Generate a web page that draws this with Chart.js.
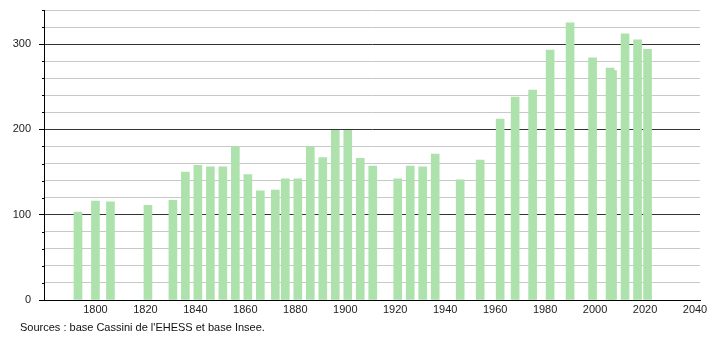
<!DOCTYPE html>
<html>
<head>
<meta charset="utf-8">
<script src="https://cdn.jsdelivr.net/npm/chart.js@4/dist/chart.umd.min.js"></script>
<style>
html,body{margin:0;padding:0;background:#fff;}
#wrap{position:relative;width:710px;height:340px;}
#note{position:absolute;left:20px;top:321px;font:11px "Liberation Sans",Arial,sans-serif;color:#111;white-space:nowrap;}
</style>
</head>
<body>
<div id="wrap">
<canvas id="c" width="710" height="340"></canvas>
<div id="note">Sources : base Cassini de l'EHESS et base Insee.</div>
</div>
<script>
const years = [1793,1800,1806,1821,1831,1836,1841,1846,1851,1856,1861,1866,1872,1876,1881,1886,1891,1896,1901,1906,1911,1921,1926,1931,1936,1946,1954,1962,1968,1975,1982,1990,1999,2006,2007,2012,2017,2021];
const population = [103,116,115,111,117,150,158,156,156,180,147,128,129,142,142,180,167,199,199,166,157,142,157,156,171,141,164,212,238,246,293,325,284,272,269,312,305,294];
const xTickLabels = [1800,1820,1840,1860,1880,1900,1920,1940,1960,1980,2000,2020,2040];
const yTickLabels = [0,100,200,300];

const font = {family:'"Liberation Sans", Arial, sans-serif', size:11};

const minorTicks = {
  id:'minorTicks',
  afterDraw(chart){
    const y = chart.scales.y, ctx = chart.ctx, x0 = chart.chartArea.left;
    ctx.save();
    ctx.strokeStyle = '#000';
    ctx.lineWidth = 1;
    for (let v = 20; v <= 340; v += 20) {
      if (v % 100 === 0) continue;
      const p = Math.round(y.getPixelForValue(v)) + 0.5;
      ctx.beginPath(); ctx.moveTo(x0 - 2, p); ctx.lineTo(x0, p); ctx.stroke();
    }
    ctx.restore();
  }
};

new Chart(document.getElementById('c'), {
  type:'bar',
  data:{
    datasets:[{
      data: years.map((yr,i)=>({x:yr, y:population[i]})),
      backgroundColor:'#ade2ad',
      borderWidth:0,
      barThickness:8
    }]
  },
  options:{
    responsive:false,
    animation:false,
    layout:{padding:{top:10,right:10,bottom:20,left:0}},
    plugins:{legend:{display:false},tooltip:{enabled:false}},
    scales:{
      x:{
        type:'linear',
        offset:false,
        bounds:'data',
        min:1779.4,
        max:2042,
        afterBuildTicks(s){ s.ticks = xTickLabels.map(v=>({value:v})); },
        afterFit(s){ s.height = 20; s.paddingLeft = 0; s.paddingRight = 0; },
        grid:{display:false, drawTicks:false, offset:false},
        border:{display:true,color:'#000',width:1},
        ticks:{color:'#222', font, padding:3, maxRotation:0, autoSkip:false, callback:v=>String(v)}
      },
      y:{
        min:0,
        max:340,
        afterBuildTicks(s){ const t=[]; for(let v=0;v<=340;v+=20) t.push({value:v}); s.ticks=t; },
        afterFit(s){ s.width = 44; s.paddingTop = 0; s.paddingBottom = 0; },
        grid:{
          color:c=> (c.tick && c.tick.value % 100 === 0) ? '#333' : '#c8c8c8',
          tickColor:c=> (c.tick && c.tick.value % 100 === 0) ? '#000' : 'rgba(0,0,0,0)',
          tickLength:5,
          lineWidth:1
        },
        border:{display:true,color:'#000',width:1},
        ticks:{
          color:'#222', font, padding:8, autoSkip:false,
          callback:v=> yTickLabels.includes(v) ? String(v) : ''
        }
      }
    }
  },
  plugins:[minorTicks]
});
</script>
</body>
</html>
